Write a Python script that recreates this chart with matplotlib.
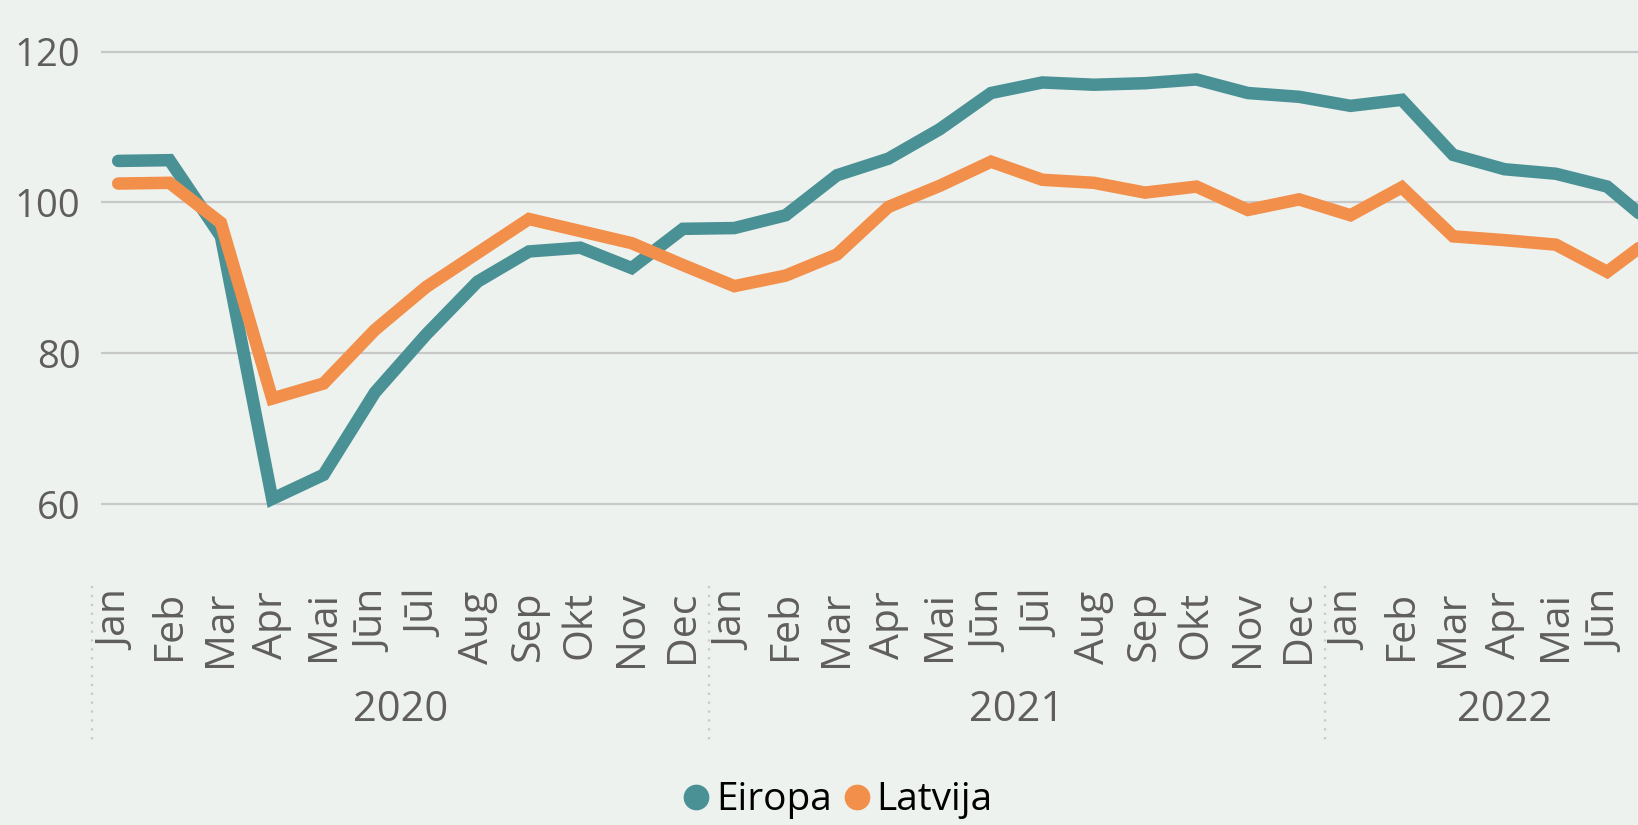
import matplotlib
matplotlib.use("Agg")
import matplotlib.pyplot as plt
from matplotlib.lines import Line2D
import matplotlib.transforms as mtransforms

# Monthly index values, Jan 2020 .. Jul 2022
months = ['Jan', 'Feb', 'Mar', 'Apr', 'Mai', 'Jūn', 'Jūl', 'Aug', 'Sep', 'Okt', 'Nov', 'Dec']
years = ['2020', '2021', '2022']
months_per_year = [12, 12, 7]

eiropa = [105.5, 105.6, 95.5, 60.7, 63.9, 74.8, 82.5, 89.5, 93.5, 94.0, 91.3, 96.5,
          96.6, 98.3, 103.6, 105.8, 109.7, 114.5, 115.9, 115.6, 115.8, 116.3, 114.5, 114.0,
          112.8, 113.6, 106.3, 104.4, 103.8, 102.1, 96.4]
latvija = [102.5, 102.6, 97.3, 74.0, 76.0, 83.1, 88.8, 93.3, 97.8, 96.2, 94.6, 91.7,
           88.9, 90.3, 93.1, 99.4, 102.2, 105.4, 103.0, 102.6, 101.3, 102.1, 99.0, 100.4,
           98.3, 102.0, 95.5, 95.0, 94.4, 90.8, 95.9]

bg = '#EEF2EE'
teal = '#4A9196'
orange = '#F28F4A'
grey_text = '#605E5C'
grid_col = '#C8C8C8'
font = ['Open Sans', 'DejaVu Sans']

x_labels = []
for n in months_per_year:
    x_labels += months[:n]
x = list(range(len(eiropa)))

fig = plt.figure(figsize=(16.38, 8.25), dpi=100, facecolor=bg)
ax = fig.add_axes([0.0618, 0.304, 1 - 0.0618, 0.696])
ax.set_facecolor(bg)

ax.plot(x, eiropa, color=teal, lw=9, solid_capstyle='round', solid_joinstyle='miter', zorder=3)
ax.plot(x, latvija, color=orange, lw=9, solid_capstyle='round', solid_joinstyle='miter', zorder=4)

ax.set_yticks([60, 80, 100, 120])
ax.set_xticks(x)
ax.set_xticklabels(x_labels, rotation=90, va='top', ha='center',
                   fontsize=29.5, color=grey_text, family=font)
# set limits after the ticks, otherwise set_xticks widens the view
ax.set_xlim(-0.33, 29.6)
ax.set_ylim(50.72, 126.83)

ax.grid(axis='y', color=grid_col, lw=1.6)
ax.set_axisbelow(True)
for s in ax.spines.values():
    s.set_visible(False)

ax.tick_params(axis='y', length=0, pad=15, labelsize=27.5, labelcolor=grey_text)
for lab in ax.get_yticklabels():
    lab.set_family(font)
ax.tick_params(axis='x', length=0, pad=12)

# year separators and year labels
trans = mtransforms.blended_transform_factory(ax.transData, ax.transAxes)
start = 0
for yr, n in zip(years, months_per_year):
    ax.plot([start - 0.5, start - 0.5], [-0.02, -0.293], transform=trans,
            color=grid_col, lw=1.6, ls=(0, (1, 3)), clip_on=False)
    ax.text(start + (n - 1) / 2, -0.237, yr, transform=trans, ha='center', va='center',
            fontsize=30, color=grey_text, family=font)
    start += n

handles = [Line2D([], [], ls='none', marker='o', markersize=17.5, color=teal),
           Line2D([], [], ls='none', marker='o', markersize=17.5, color=orange)]
fig.legend(handles, ['Eiropa', 'Latvija'], loc='center', bbox_to_anchor=(0.512, 0.03),
           ncol=2, frameon=False, handlelength=0.6, handletextpad=0.2, columnspacing=0.35,
           prop={'family': font, 'size': 28})

fig.savefig('out.png', dpi=100, facecolor=bg)
